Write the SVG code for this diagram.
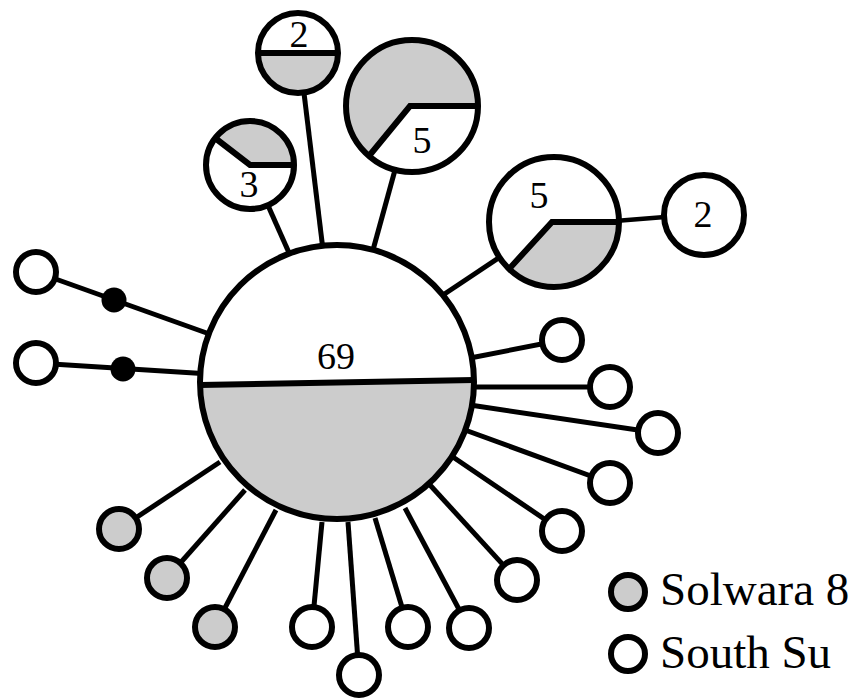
<svg xmlns="http://www.w3.org/2000/svg" width="849" height="698" viewBox="0 0 849 698">
<style>
.c{fill:#fff;stroke:#000;stroke-width:6}
.g{fill:#cccccc;stroke:none}
.gc{fill:#cccccc;stroke:#000;stroke-width:6}
.o{fill:none;stroke:#000;stroke-width:6}
.d{stroke:#000;stroke-width:6;fill:none;stroke-linejoin:miter}
.e{stroke:#000;stroke-width:5;fill:none}
.t{font-family:"Liberation Serif",serif;font-size:38px;fill:#000;text-anchor:middle}
.l{font-family:"Liberation Serif",serif;font-size:47px;fill:#000}
</style>
<g id="connectors">
<line class="e" x1="300" y1="60" x2="323" y2="250"/>
<line class="e" x1="250" y1="165" x2="290" y2="255"/>
<line class="e" x1="395" y1="170" x2="373" y2="250"/>
<line class="e" x1="440" y1="297" x2="530" y2="237"/>
<line x1="615" y1="221" x2="665" y2="217" stroke="#000" stroke-width="4.5"/>
<line class="e" x1="36" y1="272" x2="215" y2="336"/>
<line class="e" x1="36" y1="363" x2="210" y2="374"/>
<line class="e" x1="465" y1="359" x2="562" y2="340"/>
<line class="e" x1="470" y1="387" x2="610" y2="387"/>
<line class="e" x1="470" y1="405" x2="658" y2="433"/>
<line class="e" x1="465" y1="430" x2="610" y2="483"/>
<line class="e" x1="450" y1="455" x2="562" y2="531"/>
<line class="e" x1="430" y1="485" x2="517" y2="580"/>
<line class="e" x1="405" y1="508" x2="469" y2="628"/>
<line class="e" x1="375" y1="518" x2="408" y2="627"/>
<line class="e" x1="348" y1="522" x2="359" y2="675"/>
<line class="e" x1="322" y1="522" x2="312" y2="627"/>
<line class="e" x1="276" y1="510" x2="215" y2="627"/>
<line class="e" x1="245" y1="490" x2="167" y2="578"/>
<line class="e" x1="220" y1="462" x2="119" y2="529"/>
</g>
<g id="main">
<circle cx="337" cy="382" r="137" fill="#fff"/>
<path class="g" d="M200 385 L474 380 A137 137 0 0 1 200 385 Z"/>
<line x1="200" y1="385" x2="474" y2="380" stroke="#000" stroke-width="6"/>
<circle class="o" cx="337" cy="382" r="137"/>
<text class="t" x="336" y="369" font-size="40">69</text>
</g>
<g id="top2">
<circle cx="298" cy="53" r="40" fill="#fff"/>
<path class="g" d="M258 53 A40 40 0 0 0 338 53 Z"/>
<line x1="258" y1="53" x2="338" y2="53" stroke="#000" stroke-width="6"/>
<circle class="o" cx="298" cy="53" r="40"/>
<text class="t" x="299" y="47">2</text>
</g>
<g id="node3">
<circle cx="250" cy="165" r="44" fill="#fff"/>
<path class="g" d="M250 165 L294 165 A44 44 0 0 0 215 138 Z"/>
<polyline class="d" points="294,165 250,165 215,138"/>
<circle class="o" cx="250" cy="165" r="44"/>
<text class="t" x="249" y="197">3</text>
</g>
<g id="top5">
<circle cx="412" cy="106" r="66" fill="#fff"/>
<path class="g" d="M410 106 L478 106 A66 66 0 1 0 369 156 Z"/>
<polyline class="d" points="478,106 410,106 369,156"/>
<circle class="o" cx="412" cy="106" r="66"/>
<text class="t" x="422" y="153">5</text>
</g>
<g id="right5">
<circle cx="554" cy="222" r="65" fill="#fff"/>
<path class="g" d="M552 222 L619 222 A65 65 0 0 1 509 269 Z"/>
<polyline class="d" points="619,222 552,222 509,269"/>
<circle class="o" cx="554" cy="222" r="65"/>
<text class="t" x="539" y="208">5</text>
</g>
<g id="right2">
<circle class="c" cx="704" cy="215" r="40"/>
<text class="t" x="703" y="227">2</text>
</g>
<g id="dot1"><circle cx="114" cy="300" r="12.5" fill="#000"/></g>
<g id="dot2"><circle cx="123" cy="369" r="12.5" fill="#000"/></g>
<g id="left1"><circle class="c" cx="36" cy="272" r="20"/></g>
<g id="left2"><circle class="c" cx="36" cy="363" r="20"/></g>
<g id="r1"><circle class="c" cx="562" cy="340" r="20"/></g>
<g id="r2"><circle class="c" cx="610" cy="387" r="20"/></g>
<g id="r3"><circle class="c" cx="658" cy="433" r="20"/></g>
<g id="r4"><circle class="c" cx="610" cy="483" r="20"/></g>
<g id="r5"><circle class="c" cx="562" cy="531" r="20"/></g>
<g id="r6"><circle class="c" cx="517" cy="580" r="20"/></g>
<g id="b1"><circle class="c" cx="469" cy="628" r="20"/></g>
<g id="b2"><circle class="c" cx="408" cy="627" r="20"/></g>
<g id="b3"><circle class="c" cx="359" cy="675" r="20"/></g>
<g id="b4"><circle class="c" cx="312" cy="627" r="20"/></g>
<g id="g1"><circle class="gc" cx="215" cy="627" r="20"/></g>
<g id="g2"><circle class="gc" cx="167" cy="578" r="20"/></g>
<g id="g3"><circle class="gc" cx="119" cy="529" r="20"/></g>
<g id="legend">
<circle class="gc" cx="628" cy="592" r="17" stroke-width="7"/>
<text class="l" x="660" y="605">Solwara 8</text>
<circle class="c" cx="628" cy="654" r="17" stroke-width="7"/>
<text class="l" x="660" y="668">South Su</text>
</g>
</svg>
